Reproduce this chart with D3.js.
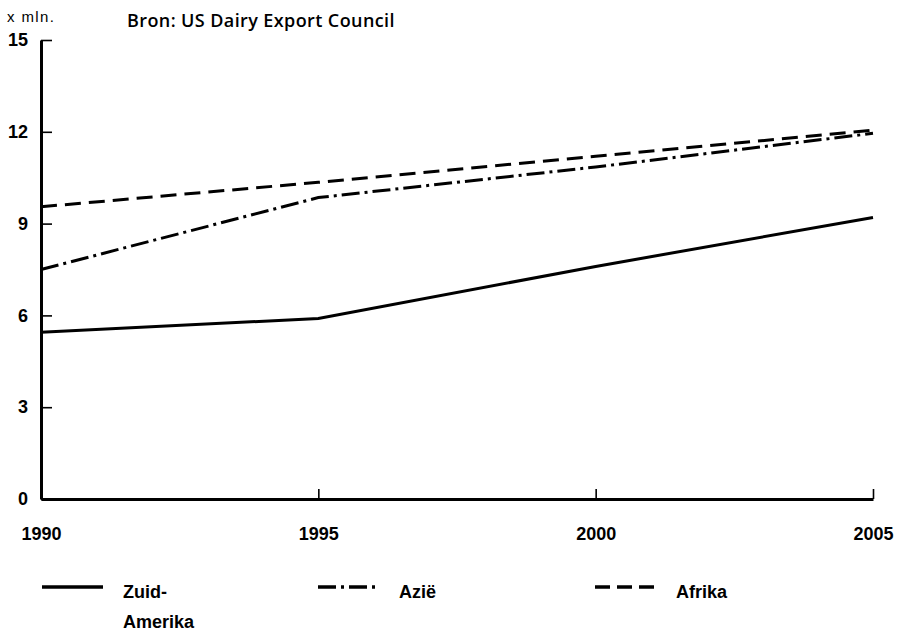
<!DOCTYPE html>
<html>
<head>
<meta charset="utf-8">
<script src="https://cdn.jsdelivr.net/npm/d3@7"></script>
<style>
  body { margin: 0; background: #fff; }
  .chart text { font-family: "Liberation Sans", Arial, sans-serif; fill: #000; }
</style>
</head>
<body>
<div class="chart"></div>
<script>
// data (x mln.)
const years = [1990, 1995, 2000, 2005];
const zuidAmerika = [5.45, 5.9, 7.6, 9.2];
const azie = [7.5, 9.85, 10.85, 11.95];
const afrika = [9.55, 10.35, 11.2, 12.05];
const yTicks = [0, 3, 6, 9, 12, 15];

const series = [
    { name: ["Zuid-", "Amerika"], values: zuidAmerika, dash: null, lx: 42 },
    { name: ["Azië"], values: azie, dash: "18,5,3,5", lx: 318 },
    { name: ["Afrika"], values: afrika, dash: "16,8", lx: 595 }
];

const width = 907, height = 633;
const svg = d3.select(".chart").append("svg")
    .attr("width", width)
    .attr("height", height);

const x = d3.scaleLinear().domain([1990, 2005]).range([41, 873]);
const y = d3.scaleLinear().domain([0, 15]).range([499, 40]);

// header texts
svg.append("text")
    .attr("x", 127).attr("y", 27)
    .style("font-family", "'Open Sans', sans-serif")
    .style("font-weight", 600)
    .style("font-size", "18px")
    .style("letter-spacing", "0.4px")
    .text("Bron: US Dairy Export Council");

svg.append("text")
    .attr("x", 7).attr("y", 22)
    .style("font-size", "15px")
    .style("letter-spacing", "1.4px")
    .text("x mln.");

// y axis
const yAxis = svg.append("g")
    .attr("transform", "translate(" + x(1990) + ",0)")
    .call(d3.axisLeft(y).tickValues(yTicks).tickSizeInner(-11).tickSizeOuter(0).tickPadding(24));
yAxis.select(".domain").attr("stroke-width", 3);
yAxis.selectAll(".tick line").attr("stroke-width", 1.6);
yAxis.selectAll(".tick text")
    .style("font-size", "18px").style("font-weight", "bold")
    .attr("x", -13);

// x axis
const xAxis = svg.append("g")
    .attr("transform", "translate(0," + y(0) + ")")
    .call(d3.axisBottom(x).tickValues(years).tickFormat(d3.format("d"))
        .tickSizeInner(-10).tickSizeOuter(0).tickPadding(28));
xAxis.select(".domain").attr("stroke-width", 3);
xAxis.selectAll(".tick line").attr("stroke-width", 1.6)
    .attr("opacity", d => d === 1990 ? 0 : 1);
xAxis.selectAll(".tick text")
    .style("font-size", "18px").style("font-weight", "bold");

// lines
const line = d3.line()
    .x((d, i) => x(years[i]))
    .y(d => y(d));

series.forEach(s => {
    svg.append("path")
        .datum(s.values)
        .attr("d", line)
        .attr("fill", "none")
        .attr("stroke", "#000")
        .attr("stroke-width", 3)
        .attr("stroke-dasharray", s.dash);
});

// legend
const legendY = 587;
series.forEach(s => {
    const g = svg.append("g").attr("transform", "translate(" + s.lx + "," + legendY + ")");
    g.append("line")
        .attr("x1", 0).attr("x2", 61)
        .attr("stroke", "#000")
        .attr("stroke-width", 3.5)
        .attr("stroke-dasharray", s.dash === "16,8" ? "15,7" : s.dash);
    s.name.forEach((t, i) => {
        g.append("text")
            .attr("x", 81).attr("y", 11 + i * 30)
            .style("font-size", "18px").style("font-weight", "bold")
            .text(t);
    });
});
</script>
</body>
</html>
